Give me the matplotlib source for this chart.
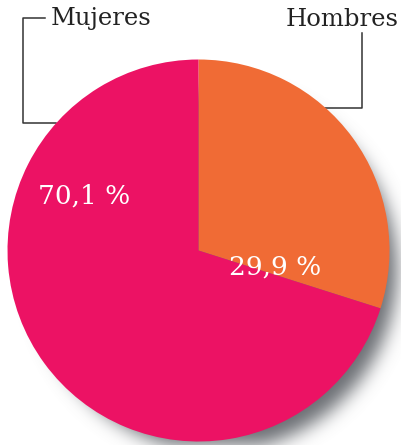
import numpy as np
import matplotlib
matplotlib.use("Agg")
import matplotlib.pyplot as plt

labels = ["Hombres", "Mujeres"]
values = [29.9, 70.1]
pct_text = ["29,9 %", "70,1 %"]
colors = ["#F06B35", "#EC1264"]

W, H = 401, 445
fig = plt.figure(figsize=(W / 100, H / 100), dpi=100)
ax = fig.add_axes([0, 0, 1, 1])

def Y(y):
    return H - y

cx, cy, r = 198.5, 250.5, 191

# shadow
yy, xx = np.mgrid[0:H, 0:W].astype(float)
sx, sy = cx + 17, cy + 19
mask = (((xx - sx) ** 2 + (yy - sy) ** 2) <= (r - 10) ** 2).astype(float)
sig = 9.0
k = np.arange(-30, 31)
g = np.exp(-k ** 2 / (2 * sig ** 2)); g /= g.sum()
pad = 40
mp = np.pad(mask, pad)
blur = np.apply_along_axis(lambda m: np.convolve(m, g, mode="same"), 0, mp)
blur = np.apply_along_axis(lambda m: np.convolve(m, g, mode="same"), 1, blur)
blur = blur[pad:-pad, pad:-pad]
img = np.zeros((H, W, 4))
img[..., 0] = 0.45; img[..., 1] = 0.46; img[..., 2] = 0.48
img[..., 3] = np.clip(blur * 1.05, 0, 1)
ax.imshow(img, extent=(0, W, 0, H), origin="upper", zorder=1, interpolation="bilinear")

wedges, _ = ax.pie(values, colors=colors, startangle=90, counterclock=False,
                   center=(cx, Y(cy)), radius=r, frame=True,
                   wedgeprops=dict(linewidth=0))
for w in wedges:
    w.set_zorder(2)
ax.set_xlim(0, W); ax.set_ylim(0, H)
ax.set_aspect("auto")
ax.axis("off")

font = "DejaVu Serif"
ax.text(275, Y(267), pct_text[0], color="white", fontsize=19, family=font,
        ha="center", va="center", zorder=3)
ax.text(84, Y(196), pct_text[1], color="white", fontsize=19, family=font,
        ha="center", va="center", zorder=3)

ax.text(51, Y(19), labels[1], color="#222222", fontsize=17.5, family=font,
        ha="left", va="center")
ax.text(399, Y(19), labels[0], color="#222222", fontsize=17.5, family=font,
        ha="right", va="center")

lc = "#333333"
ax.plot([45, 23, 23, 56], [Y(18), Y(18), Y(123), Y(123)], color=lc, lw=1.1, zorder=1.5)
ax.plot([362, 362, 325], [Y(33), Y(108), Y(108)], color=lc, lw=1.1, zorder=1.5)

fig.savefig("out.png", dpi=100)
